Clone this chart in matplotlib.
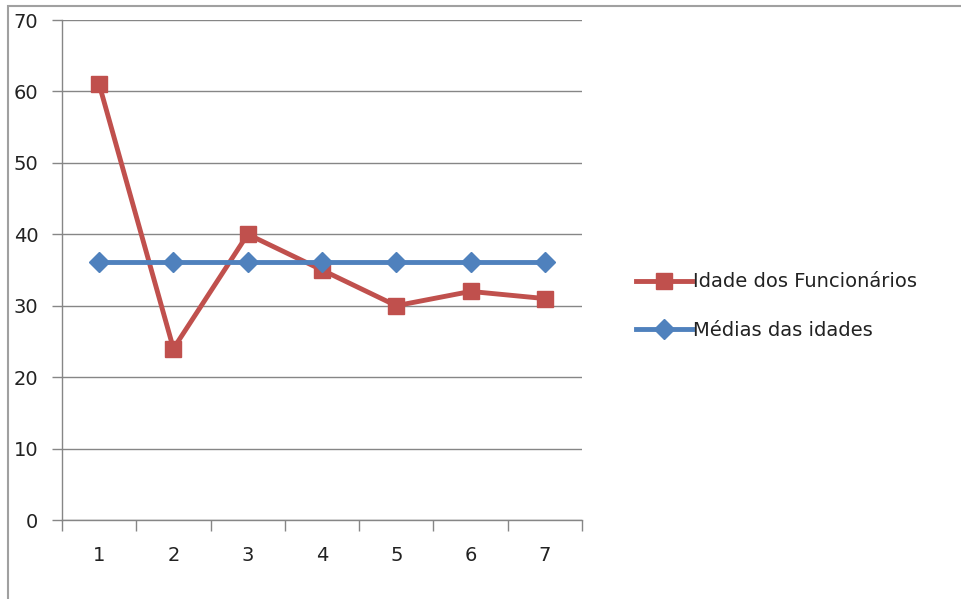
import matplotlib.pyplot as plt
from matplotlib.patches import Rectangle
from matplotlib.ticker import FixedLocator, NullFormatter

# employee ages and their mean
funcionarios = [1, 2, 3, 4, 5, 6, 7]
idades = [61, 24, 40, 35, 30, 32, 31]
media = sum(idades) / len(idades)
medias = [media] * len(idades)

y_ticks = [0, 10, 20, 30, 40, 50, 60, 70]

plt.rcParams["font.family"] = ["DejaVu Sans"]

fig = plt.figure(figsize=(9.61, 5.99), dpi=100)
ax = fig.add_axes([62 / 961, 1 - 520 / 599, 520 / 961, 500 / 599])

grey = "#868686"

# chart area border
fig.patches.append(
    Rectangle((8 / 961, -0.01), 1.0, 1 - 6 / 599 + 0.01,
              transform=fig.transFigure, fill=False,
              edgecolor="#a0a0a0", linewidth=1.5)
)

ax.plot(funcionarios, idades, "-s", color="#C0504D", linewidth=3.5,
        markersize=12, label="Idade dos Funcionários", zorder=3)
ax.plot(funcionarios, medias, "-D", color="#4F81BD", linewidth=3.5,
        markersize=10, label="Médias das idades", zorder=4)

ax.set_xlim(0.5, 7.5)
ax.set_ylim(0, 70)
ax.set_yticks(y_ticks)
ax.set_xticks(funcionarios)
ax.xaxis.set_minor_locator(FixedLocator([x + 0.5 for x in range(0, 8)]))
ax.xaxis.set_minor_formatter(NullFormatter())

ax.tick_params(axis="x", which="major", length=0, pad=19, labelsize=14,
               labelcolor="#222222")
ax.tick_params(axis="x", which="minor", length=8, color=grey, width=1)
ax.tick_params(axis="y", length=7, color=grey, width=1, pad=10,
               labelsize=14, labelcolor="#222222")

ax.grid(axis="y", color=grey, linewidth=1)
ax.set_axisbelow(True)

for side in ["top", "right"]:
    ax.spines[side].set_visible(False)
for side in ["left", "bottom"]:
    ax.spines[side].set_color(grey)
    ax.spines[side].set_linewidth(1)

leg = ax.legend(loc="center left", bbox_to_anchor=(1.07, 0.428),
                frameon=False, fontsize=14, handlelength=2.9,
                handletextpad=0.05, labelspacing=1.5)
for text in leg.get_texts():
    text.set_color("#222222")

fig.savefig("out.png", dpi=100)
